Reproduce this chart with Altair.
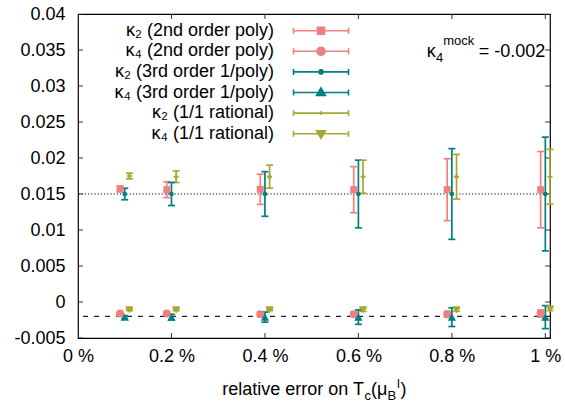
import altair as alt
import pandas as pd
import numpy as np

FONT = "Liberation Sans"

# ---------------- data ----------------
x_vals = [0.1, 0.2, 0.4, 0.6, 0.8, 1.0]  # relative error on Tc (%)

series_names = [
    "κ₂ (2nd order poly)",
    "κ₄ (2nd order poly)",
    "κ₂ (3rd order 1/poly)",
    "κ₄ (3rd order 1/poly)",
    "κ₂ (1/1 rational)",
    "κ₄ (1/1 rational)",
]

k2_poly = [0.0157, 0.0156, 0.01565, 0.0156, 0.0156, 0.0156]
k2_poly_err = [0.0004, 0.0011, 0.0021, 0.0032, 0.0043, 0.0053]
k4_poly = [-0.0016, -0.0016, -0.0017, -0.0017, -0.0017, -0.0016]
k4_poly_err = [0.0001, 0.0002, 0.0003, 0.0003, 0.0004, 0.0005]

k2_inv = [0.0150, 0.0150, 0.0150, 0.0150, 0.0150, 0.0150]
k2_inv_err = [0.0008, 0.0016, 0.0031, 0.0047, 0.0063, 0.0079]
k4_inv = [-0.0021, -0.0021, -0.0021, -0.0021, -0.0021, -0.0021]
k4_inv_err = [0.0002, 0.0004, 0.0007, 0.0010, 0.0013, 0.0016]

k2_rat = [0.0175, 0.0174, 0.0174, 0.0174, 0.0174, 0.0174]
k2_rat_err = [0.0004, 0.0008, 0.0016, 0.0023, 0.0031, 0.0038]
k4_rat = [-0.0011, -0.0011, -0.0011, -0.0011, -0.0011, -0.0010]
k4_rat_err = [0.0001, 0.0001, 0.0001, 0.0002, 0.0002, 0.0002]

kappa2_mock = 0.015
kappa4_mock = -0.002

x_ticks = [0, 0.2, 0.4, 0.6, 0.8, 1.0]
y_ticks = [-0.005, 0, 0.005, 0.01, 0.015, 0.02, 0.025, 0.03, 0.035, 0.04]

# ---------------- styles ----------------
PINK, TEAL, OLIVE = "#F08080", "#008080", "#A8A830"
colors = [PINK, PINK, TEAL, TEAL, OLIVE, OLIVE]
shapes = ["square", "circle", "circle", "triangle-up", "cross", "triangle-down"]
sizes = [49, 64, 22, 70, 25, 70]
offsets = [-0.01, -0.01, 0.0, 0.0, 0.01, 0.01]

values = [k2_poly, k4_poly, k2_inv, k4_inv, k2_rat, k4_rat]
errors = [k2_poly_err, k4_poly_err, k2_inv_err, k4_inv_err, k2_rat_err, k4_rat_err]

rows = []
for name, vals, errs, off in zip(series_names, values, errors, offsets):
    for x, v, e in zip(x_vals, vals, errs):
        rows.append({"series": name, "x": x + off, "y": v, "lo": v - e, "hi": v + e})
df = pd.DataFrame(rows)

# legend glyphs (error-bar sample with marker), drawn to the right of the label.
# Legend symbol size 16 -> 1 path unit = 2 px; glyph geometry given in px here.
UNIT = 2.0
GX = 56.0  # glyph centre, px right of the legend symbol anchor


def pt(x, y):
    return "%.3f,%.3f" % ((x + GX) / UNIT, y / UNIT)


def poly(r, n):
    a = np.linspace(0, 2 * np.pi, n, endpoint=False)
    return "M" + "L".join(pt(r * np.cos(t), r * np.sin(t)) for t in a) + "Z"


HW, CAP = 27.5, 3.0
bar = ("M" + pt(-HW, 0) + "L" + pt(HW, 0) + "M" + pt(-HW, -CAP) + "L" + pt(-HW, CAP)
       + "M" + pt(HW, -CAP) + "L" + pt(HW, CAP))
legend_paths = [
    bar + "M" + pt(-3.5, -3.5) + "L" + pt(3.5, -3.5) + "L" + pt(3.5, 3.5) + "L" + pt(-3.5, 3.5) + "Z",
    bar + poly(4.0, 12),
    bar + poly(2.2, 10),
    bar + "M" + pt(0, -4.6) + "L" + pt(4.4, 3.0) + "L" + pt(-4.4, 3.0) + "Z",
    bar + "M" + pt(0, -2.0) + "L" + pt(0, 2.0),
    bar + "M" + pt(0, 4.6) + "L" + pt(4.4, -3.0) + "L" + pt(-4.4, -3.0) + "Z",
]

xs = alt.Scale(domain=[0, 1.01], nice=False, zero=False)
ys = alt.Scale(domain=[-0.005, 0.04], nice=False, zero=False)
x_axis = alt.Axis(values=x_ticks, labelExpr="format(datum.value, '~g') + ' %'",
                  ticks=False, domain=False, grid=False, title=None,
                  labelFontSize=18, labelPadding=9, labelFlush=False,
                  labelColor="black", labelOverlap=False, labelFont=FONT)
y_axis = alt.Axis(values=y_ticks,
                  labelExpr="datum.value < 0 ? '-' + format(-datum.value, '~g') : format(datum.value, '~g')",
                  ticks=False, domain=False, grid=False, title=None,
                  labelFontSize=18, labelPadding=13, labelColor="black",
                  labelOverlap=False, labelFont=FONT)


def X(f):
    return alt.X(f, type="quantitative", scale=xs, axis=x_axis)


def Y(f):
    return alt.Y(f, type="quantitative", scale=ys, axis=y_axis)


cscale = alt.Scale(domain=series_names, range=colors)
color = alt.Color("series:N", scale=cscale, legend=None)

# inward tick marks on all four sides
tick_col = "#333333"
ytk = pd.DataFrame({"y": y_ticks})
xtk = pd.DataFrame({"x": x_ticks})
left_ticks = alt.Chart(ytk).transform_calculate(x="0").mark_tick(
    orient="horizontal", size=10, thickness=1, color=tick_col, clip=True, opacity=1
).encode(x=X("x"), y=Y("y"))
right_ticks = alt.Chart(ytk).transform_calculate(x="1.01").mark_tick(
    orient="horizontal", size=10, thickness=1, color=tick_col, clip=True, opacity=1
).encode(x=X("x"), y=Y("y"))
bottom_ticks = alt.Chart(xtk).transform_calculate(y="-0.005").mark_tick(
    orient="vertical", size=10, thickness=1, color=tick_col, clip=True, opacity=1
).encode(x=X("x"), y=Y("y"))
top_ticks = alt.Chart(xtk).transform_calculate(y="0.04").mark_tick(
    orient="vertical", size=10, thickness=1, color=tick_col, clip=True, opacity=1
).encode(x=X("x"), y=Y("y"))

mock_df = pd.DataFrame({"k2": [kappa2_mock], "k4": [kappa4_mock]})
dotted = alt.Chart(mock_df).mark_rule(color="#111111", strokeWidth=1.2, strokeDash=[1.2, 2]).encode(y=Y("k2"))
dashed = alt.Chart(mock_df).mark_rule(color="#222222", strokeWidth=1.4, strokeDash=[5, 6]).encode(y=Y("k4"))

rules = alt.Chart(df).mark_rule(strokeWidth=1.7, opacity=1).encode(
    x=X("x"), y=Y("lo"), y2="hi", color=color)
caps_lo = alt.Chart(df).mark_tick(orient="horizontal", size=7, thickness=1.7, opacity=1).encode(
    x=X("x"), y=Y("lo"), color=color)
caps_hi = alt.Chart(df).mark_tick(orient="horizontal", size=7, thickness=1.7, opacity=1).encode(
    x=X("x"), y=Y("hi"), color=color)

marker_layers = []
for name, shp, sz, col in zip(series_names, shapes, sizes, colors):
    marker_layers.append(
        alt.Chart(df).transform_filter(alt.datum.series == name).mark_point(
            filled=True, opacity=1, strokeWidth=0, shape=shp, size=sz, color=col
        ).encode(x=X("x"), y=Y("y"))
    )

leg = alt.Legend(title=None, orient="none", legendX=178, legendY=7.7, direction="vertical",
                 symbolSize=16, symbolStrokeWidth=1.6,
                 labelAlign="right", labelOffset=0,
                 labelFontSize=18, labelFont=FONT, labelLimit=400,
                 rowPadding=2.6, padding=0, symbolOpacity=1, labelColor="black")
legend_layer = alt.Chart(df).transform_filter("false").mark_point(filled=True, opacity=1).encode(
    x=X("x"), y=Y("y"),
    shape=alt.Shape("series:N", scale=alt.Scale(domain=series_names, range=legend_paths), legend=leg),
    fill=alt.Fill("series:N", scale=cscale, legend=leg),
    stroke=alt.Stroke("series:N", scale=cscale, legend=leg),
)

# annotation kappa4^mock = -0.002 (anchored in data coordinates)
ann_df = pd.DataFrame({"x": [1.0], "y": [0.03406]})
ann_base = alt.Chart(ann_df)
ann_val = ann_base.mark_text(text="= %g" % kappa4_mock, align="right", baseline="alphabetic",
                             fontSize=18, font=FONT, color="black").encode(x=X("x"), y=Y("y"))
ann_mock = ann_base.mark_text(text="mock", align="right", baseline="alphabetic", dx=-71, dy=-11.7,
                              fontSize=13, font=FONT, color="black").encode(x=X("x"), y=Y("y"))
ann_sub = ann_base.mark_text(text="4", align="right", baseline="alphabetic", dx=-102, dy=5,
                             fontSize=13, font=FONT, color="black").encode(x=X("x"), y=Y("y"))
ann_k = ann_base.mark_text(text="κ", align="right", baseline="alphabetic", dx=-109.5,
                           fontSize=18, font=FONT, color="black").encode(x=X("x"), y=Y("y"))

# x-axis title: relative error on T_c(mu_B^l)
one = pd.DataFrame({"a": [0]})


def title_piece(txt, px, py, fs, align="left"):
    return alt.Chart(one).mark_text(text=txt, align=align, baseline="alphabetic", fontSize=fs,
                                    font=FONT, color="black").encode(x=alt.value(px), y=alt.value(py))


title_layers = [
    title_piece("relative error on T", 286, 381, 18, align="right"),
    title_piece("c", 286.5, 385.5, 13),
    title_piece("(μ", 293, 381, 18),
    title_piece("B", 309.4, 385.5, 13),
    title_piece("l", 319, 374, 13),
    title_piece(")", 322.5, 381, 18),
]

chart = alt.layer(
    dotted, dashed, left_ticks, right_ticks, bottom_ticks, top_ticks,
    rules, caps_lo, caps_hi, *marker_layers, legend_layer,
    ann_k, ann_sub, ann_mock, ann_val, *title_layers
).resolve_scale(shape="independent", fill="independent", stroke="independent").properties(
    width=472, height=324,
    autosize=alt.AutoSizeParams(type="none"),
    padding={"left": 78, "top": 14, "right": 15, "bottom": 65},
).configure(font=FONT).configure_view(stroke="black", strokeWidth=1.2)

chart.save("out.html", embed_options={"renderer": "svg", "actions": False})
